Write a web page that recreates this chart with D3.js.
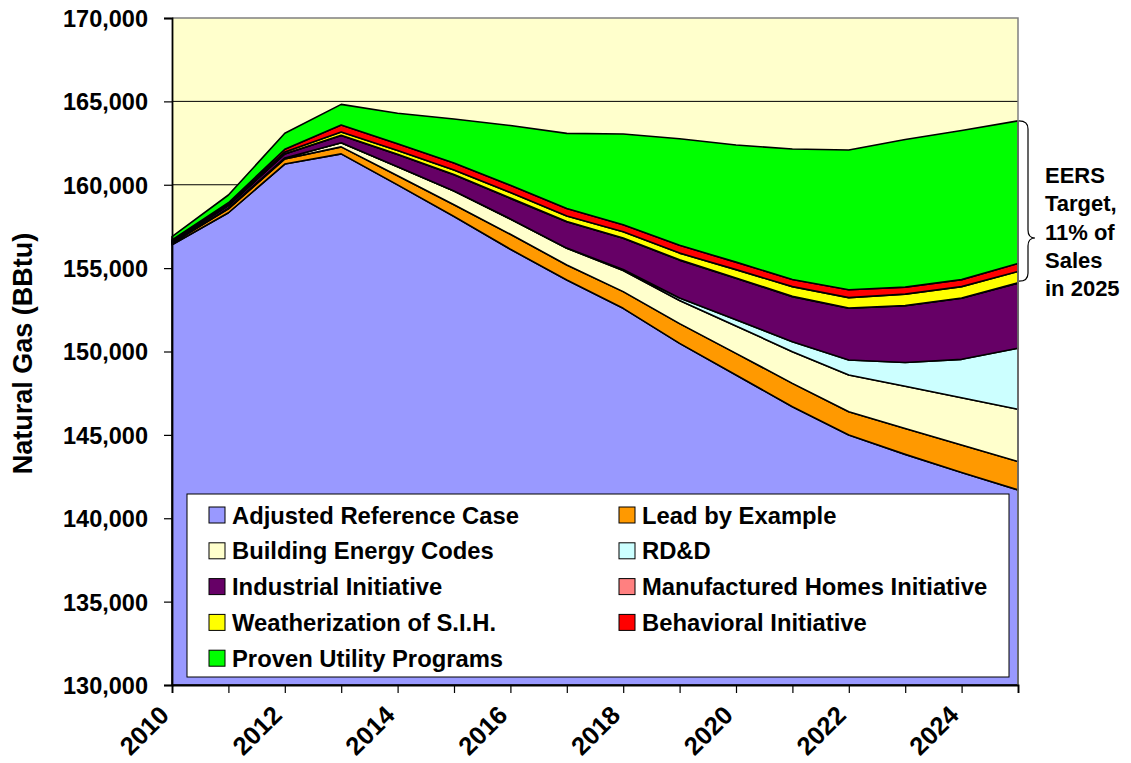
<!DOCTYPE html>
<html>
<head>
<meta charset="utf-8">
<script src="https://cdn.jsdelivr.net/npm/d3@7/dist/d3.min.js"></script>
<style>
  html, body { margin: 0; padding: 0; background: #ffffff; }
  svg { display: block; font-family: Arial, "Liberation Sans", sans-serif; }
</style>
</head>
<body>
<svg id="chart" width="1131" height="763"></svg>
<script>
// Natural gas sales (BBtu) and stacked savings by program, 2010-2025
const years = [2010, 2011, 2012, 2013, 2014, 2015, 2016, 2017, 2018, 2019, 2020, 2021, 2022, 2023, 2024, 2025];
const yearTickLabels = [2010, 2012, 2014, 2016, 2018, 2020, 2022, 2024];
const valueTicks = [130000, 135000, 140000, 145000, 150000, 155000, 160000, 165000, 170000];

const adjustedReference = [156400, 158320, 161240, 161850, 159990, 158100, 156130, 154290, 152590, 150490, 148590, 146690, 144990, 143830, 142750, 141700];
const leadByExample     = [90, 230, 310, 420, 550, 700, 900, 900, 1000, 1180, 1300, 1400, 1400, 1550, 1640, 1700];
const buildingCodes     = [20, 50, 60, 250, 540, 820, 920, 1000, 1270, 1390, 1640, 1900, 2200, 2540, 2840, 3140];
const rdd               = [0, 0, 0, 0, 0, 0, 0, 10, 60, 150, 380, 600, 900, 1420, 2300, 3660];
const industrial        = [60, 150, 240, 430, 730, 980, 1230, 1580, 1870, 2270, 2480, 2700, 3100, 3400, 3660, 3900];
const manufacturedHomes = [5, 10, 15, 20, 20, 20, 20, 20, 20, 20, 20, 20, 20, 20, 20, 20];
const weatherization    = [50, 80, 105, 190, 225, 260, 330, 330, 375, 400, 500, 580, 620, 680, 680, 680];
const behavioral        = [60, 80, 160, 420, 400, 420, 440, 450, 420, 470, 450, 430, 470, 420, 420, 480];
const provenUtility     = [200, 465, 955, 1240, 1830, 2640, 3580, 4500, 5440, 6390, 7020, 7820, 8380, 8850, 8940, 8550];

const seriesNames = [
  "Adjusted Reference Case", "Lead by Example", "Building Energy Codes", "RD&D",
  "Industrial Initiative", "Manufactured Homes Initiative", "Weatherization of S.I.H.",
  "Behavioral Initiative", "Proven Utility Programs"
];
const seriesValues = [adjustedReference, leadByExample, buildingCodes, rdd, industrial,
  manufacturedHomes, weatherization, behavioral, provenUtility];
const seriesColors = ["#9999FF", "#FF9900", "#FFFFCC", "#CCFFFF", "#660066", "#FF8080", "#FFFF00", "#FF0000", "#00FF00"];

const noteLines = ["EERS", "Target,", "11% of", "Sales", "in 2025"];

// table for d3.stack
const rows = years.map((yr, i) => {
  const r = { year: yr };
  seriesNames.forEach((n, k) => { r[n] = seriesValues[k][i]; });
  return r;
});

const svg = d3.select("#chart");
const plot = { left: 172, right: 1018, top: 18, bottom: 685 };

const x = d3.scaleLinear().domain([2010, 2025]).range([plot.left, plot.right]);
const y = d3.scaleLinear().domain([130000, 170000]).range([plot.bottom, plot.top]);

// plot background
svg.append("rect")
  .attr("x", plot.left).attr("y", plot.top)
  .attr("width", plot.right - plot.left).attr("height", plot.bottom - plot.top)
  .attr("fill", "#FFFFCC");

// horizontal gridlines
svg.append("g").selectAll("line")
  .data(valueTicks.filter(v => v > 130000 && v < 170000))
  .join("line")
  .attr("x1", plot.left).attr("x2", plot.right)
  .attr("y1", d => y(d)).attr("y2", d => y(d))
  .attr("stroke", "#000").attr("stroke-width", 1);

// stacked areas
const stack = d3.stack().keys(seriesNames);
const layers = stack(rows);
const area = d3.area()
  .x(d => x(d.data.year))
  .y0(d => y(d[0]))
  .y1(d => y(d[1]));

// the base series fills down to the axis floor
const baseArea = d3.area()
  .x(d => x(d.data.year))
  .y0(y(130000))
  .y1(d => y(d[1]));

svg.append("g").selectAll("path")
  .data(layers)
  .join("path")
  .attr("d", (d, i) => i === 0 ? baseArea(d) : area(d))
  .attr("fill", (d, i) => seriesColors[i])
  .attr("stroke", "#000")
  .attr("stroke-width", 1.6)
  .attr("stroke-linejoin", "round");

// plot border (top / right)
svg.append("path")
  .attr("d", `M${plot.left},${plot.top}H${plot.right}V${plot.bottom}`)
  .attr("fill", "none").attr("stroke", "#808080").attr("stroke-width", 1.5);

// y axis
const yAxis = d3.axisLeft(y).tickValues(valueTicks).tickSize(8).tickPadding(16)
  .tickFormat(d3.format(","));
const gy = svg.append("g").attr("transform", `translate(${plot.left},0)`).call(yAxis);
gy.select(".domain").attr("stroke", "#000").attr("stroke-width", 1.8);
gy.selectAll(".tick line").attr("stroke", "#000").attr("stroke-width", 1.2);
gy.selectAll(".tick text")
  .attr("font-size", 23.5).attr("font-weight", "bold").attr("fill", "#000")
  .attr("dy", "0.36em");

// x axis
const xAxis = d3.axisBottom(x).tickValues(years).tickSize(8).tickFormat("");
const gx = svg.append("g").attr("transform", `translate(0,${plot.bottom})`).call(xAxis);
gx.select(".domain").attr("stroke", "#000").attr("stroke-width", 1.8);
gx.selectAll(".tick line").attr("stroke", "#000").attr("stroke-width", 1.2);

svg.append("g").selectAll("text")
  .data(yearTickLabels)
  .join("text")
  .attr("transform", d => `translate(${x(d) - 14},${plot.bottom + 19}) rotate(-45)`)
  .attr("text-anchor", "end")
  .attr("dy", "0.7em")
  .attr("font-size", 25.5).attr("font-weight", "bold").attr("fill", "#000")
  .text(d => d);

// y axis title
svg.append("text")
  .attr("transform", `translate(32,${(plot.top + plot.bottom) / 2 + 2}) rotate(-90)`)
  .attr("text-anchor", "middle")
  .attr("font-size", 27).attr("font-weight", "bold").attr("fill", "#000")
  .text("Natural Gas (BBtu)");

// legend
const legend = svg.append("g");
legend.append("rect")
  .attr("x", 187).attr("y", 494).attr("width", 822).attr("height", 183)
  .attr("fill", "#fff").attr("stroke", "#000").attr("stroke-width", 1);

const colX = [209, 619];
const rowY0 = 515, rowStep = 35.8;
seriesNames.forEach((name, i) => {
  const cx = colX[i % 2];
  const cy = rowY0 + Math.floor(i / 2) * rowStep;
  legend.append("rect")
    .attr("x", cx).attr("y", cy - 8).attr("width", 16).attr("height", 16)
    .attr("fill", seriesColors[i]).attr("stroke", "#000").attr("stroke-width", 1);
  legend.append("text")
    .attr("x", cx + 23).attr("y", cy).attr("dy", "0.36em")
    .attr("font-size", 23.8).attr("font-weight", "bold").attr("fill", "#000")
    .text(name);
});

// brace marking the 2025 savings target
const bx0 = 1019, bx1 = 1028, bx2 = 1035;
const bTop = y(d3.sum(seriesValues, s => s[s.length - 1]));
const bBot = y(adjustedReference[15] + leadByExample[15] + buildingCodes[15] + rdd[15] + industrial[15]) - 2;
const bMid = 238;
const r = 8;
svg.append("path")
  .attr("d",
    `M${bx0},${bTop} Q${bx1},${bTop} ${bx1},${bTop + r}` +
    ` V${bMid - r} Q${bx1},${bMid} ${bx2},${bMid}` +
    ` Q${bx1},${bMid} ${bx1},${bMid + r}` +
    ` V${bBot - r} Q${bx1},${bBot} ${bx0},${bBot}`)
  .attr("fill", "none").attr("stroke", "#000").attr("stroke-width", 1.2);

svg.append("g").selectAll("text")
  .data(noteLines)
  .join("text")
  .attr("x", 1045)
  .attr("y", (d, i) => 183 + i * 28.3)
  .attr("font-size", 22).attr("font-weight", "bold").attr("fill", "#000")
  .text(d => d);
</script>
</body>
</html>
